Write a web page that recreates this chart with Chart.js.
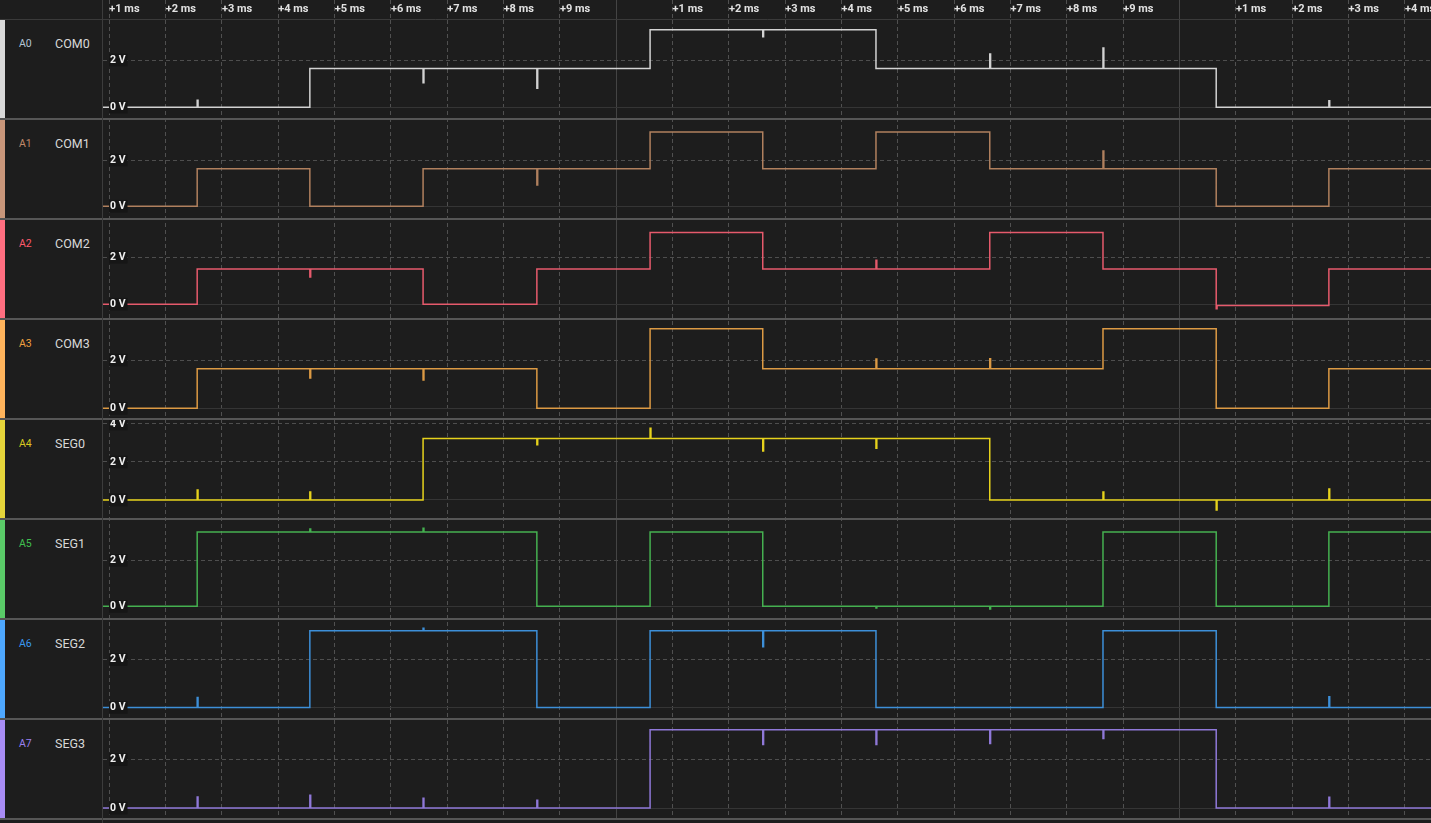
<!DOCTYPE html>
<html>
<head>
<meta charset="utf-8">
<script src="https://cdn.jsdelivr.net/npm/chart.js@4.4.1/dist/chart.umd.min.js"></script>
<style>
html,body{margin:0;padding:0;background:#1d1d1d;overflow:hidden;}
#wrap{position:relative;width:1431px;height:823px;background:#1d1d1d;}
#chart{position:absolute;left:0;top:0;}
#panel{position:absolute;left:0;top:0;width:102px;height:823px;background:#1d1d1d;border-right:1px solid #3c3c3c;font-family:Roboto,"Noto Sans",sans-serif;}
.hdr{position:absolute;left:0;top:0;width:102px;height:19px;border-bottom:1px solid #3a3a3a;}
.row{position:absolute;left:0;width:102px;height:98px;border-bottom:2px solid #565656;}
.bar{position:absolute;left:0;top:0;width:5px;height:98px;}
.id{position:absolute;left:19px;top:18px;font-size:10.5px;line-height:12px;}
.nm{position:absolute;left:55px;top:17px;font-size:12.5px;line-height:14px;color:#d8d8d8;}
</style>
</head>
<body>
<div id="wrap">
<canvas id="chart" width="1431" height="823"></canvas>
<div id="panel"><div class="hdr"></div></div>
</div>
<script>
// ---- channel identity ----
const channelIds   = ['A0','A1','A2','A3','A4','A5','A6','A7'];
const channelNames = ['COM0','COM1','COM2','COM3','SEG0','SEG1','SEG2','SEG3'];

// ---- time axis (ms) ----
const viewStart = 0.888;
const viewEnd   = 24.463;
const xTickValues = [1,2,3,4,5,6,7,8,9,10,11,12,13,14,15,16,17,18,19,20,21,22,23,24];
const xTickLabels = ['+1 ms','+2 ms','+3 ms','+4 ms','+5 ms','+6 ms','+7 ms','+8 ms','+9 ms','',
                     '+1 ms','+2 ms','+3 ms','+4 ms','+5 ms','+6 ms','+7 ms','+8 ms','+9 ms','',
                     '+1 ms','+2 ms','+3 ms','+4 ms'];

// segment boundaries (ms) where the LCD drive levels change
const edgeTimes = [2.56, 4.56, 6.57, 8.59, 10.60, 12.60, 14.61, 16.63, 18.64, 20.65, 22.65];

// ---- voltage levels per segment (V), one value per segment (12 segments) ----
const com0Levels = [0, 0, 1.64, 1.64, 1.64, 3.28, 3.28, 1.64, 1.64, 1.64, 0, 0];
const com1Levels = [0, 1.63, 0, 1.63, 1.63, 3.22, 1.63, 3.22, 1.63, 1.63, 0, 1.63];
const com2Levels = [0, 1.50, 1.50, 0, 1.50, 3.06, 1.50, 1.50, 3.06, 1.50, -0.06, 1.50];
const com3Levels = [0, 1.64, 1.64, 1.64, 0, 3.30, 1.64, 1.64, 1.64, 3.30, 0, 1.64];
const seg0Levels = [0, 0, 0, 3.23, 3.23, 3.23, 3.23, 3.23, 0, 0, 0, 0];
const seg1Levels = [0, 3.23, 3.23, 3.23, 0, 3.23, 0, 0, 0, 3.23, 0, 3.23];
const seg2Levels = [0, 0, 3.20, 3.20, 0, 3.20, 3.20, 0, 0, 3.20, 0, 0];
const seg3Levels = [0, 0, 0, 0, 0, 3.24, 3.24, 3.24, 3.24, 3.24, 0, 0];

// ---- short glitches [time ms, peak V] ----
const com0Glitches = [[2.56,0.30],[6.57,1.04],[8.59,0.80],[12.60,2.99],[16.63,2.26],[18.64,2.51],[22.65,0.27]];
const com1Glitches = [[8.59,0.92],[18.64,2.39]];
const com2Glitches = [[4.56,1.16],[14.61,1.87],[20.65,-0.19]];
const com3Glitches = [[4.56,1.26],[6.57,1.17],[14.61,2.04],[16.63,2.05]];
const seg0Glitches = [[2.56,0.53],[4.56,0.42],[8.59,2.91],[10.60,3.77],[12.60,2.58],[14.61,2.72],[18.64,0.42],[20.65,-0.53],[22.65,0.58]];
const seg1Glitches = [[4.56,3.36],[6.57,3.40],[14.61,-0.07],[16.63,-0.12]];
const seg2Glitches = [[2.56,0.42],[6.57,3.30],[12.60,2.53],[22.65,0.45]];
const seg3Glitches = [[2.56,0.46],[4.56,0.53],[6.57,0.41],[8.59,0.32],[12.60,2.63],[14.61,2.63],[16.63,2.67],[18.64,2.87],[22.65,0.45]];

// ---- per-channel vertical axis ranges and ticks (V) ----
const axisMin = [-0.50, -0.55, -0.63, -0.44, -1.00, -0.55, -0.48, -0.45];
const axisMax = [ 3.74,  3.78,  3.63,  3.70,  4.26,  3.80,  3.69,  3.68];
const yTickValues     = [0, 2];
const yTickValuesSeg0 = [0, 2, 4];

// ---- colours ----
const barColors   = ['#d9d9d9','#c8967a','#ff6e80','#ffb45c','#e5d43a','#5acb68','#4ea8ff','#a88cf5'];
const idColors    = ['#b4c4d4','#c08a6a','#ff5a6c','#f0a040','#d8c820','#40c050','#3a98f0','#9a80f0'];
const traceColors = ['#d2d2d2','#b0805e','#e65a6c','#dc9a44','#e6d21c','#45b050','#3d8fd8','#8f78d8'];

const levelsList  = [com0Levels,com1Levels,com2Levels,com3Levels,seg0Levels,seg1Levels,seg2Levels,seg3Levels];
const glitchList  = [com0Glitches,com1Glitches,com2Glitches,com3Glitches,seg0Glitches,seg1Glitches,seg2Glitches,seg3Glitches];
const tickSets    = [yTickValues,yTickValues,yTickValues,yTickValues,yTickValuesSeg0,yTickValues,yTickValues,yTickValues];

// ---- left panel (HTML text) ----
const panel = document.getElementById('panel');
channelNames.forEach((name, i) => {
  const r = document.createElement('div');
  r.className = 'row';
  r.style.top = (20 + 100 * i) + 'px';
  r.innerHTML = '<div class="bar" style="background:' + barColors[i] + '"></div>' +
                '<div class="id" style="color:' + idColors[i] + '">' + channelIds[i] + '</div>' +
                '<div class="nm">' + name + '</div>';
  panel.appendChild(r);
});

// ---- build stepped waveform points ----
function buildPoints(levels, glitches) {
  const starts = [viewStart].concat(edgeTimes);
  const pts = starts.map((t, i) => ({x: t, y: levels[i]}));
  pts.push({x: viewEnd, y: levels[levels.length - 1]});
  const levelAt = t => { let i = 0; while (i < edgeTimes.length && edgeTimes[i] <= t) i++; return levels[i]; };
  const extra = [];
  glitches.forEach(([t, v]) => { extra.push({x: t, y: v}, {x: t + 0.015, y: levelAt(t)}); });
  return pts.concat(extra).sort((a, b) => a.x - b.x);
}

const isMajor = ctx => ctx.tick && Math.round(ctx.tick.value) % 10 === 0;

const scales = {
  x: {
    type: 'linear', position: 'top', min: viewStart, max: viewEnd,
    afterBuildTicks: s => { s.ticks = xTickValues.map(v => ({value: v})); },
    afterFit: s => { s.height = 19; s.paddingLeft = 0; s.paddingRight = 0; },
    ticks: {
      autoSkip: false, maxRotation: 0, minRotation: 0, align: 'start', padding: -16,
      color: '#e2e2e2', font: {family: 'Roboto', size: 11, weight: 'bold'},
      callback: (v, i) => xTickLabels[i]
    },
    grid: {
      color: ctx => isMajor(ctx) ? '#444444' : '#505050',
      tickColor: ctx => isMajor(ctx) ? '#444444' : '#505050',
      lineWidth: 1, drawTicks: true, tickLength: 19,
      tickBorderDash: ctx => isMajor(ctx) ? [] : [4, 3]
    },
    border: { display: true, color: '#3a3a3a', dash: ctx => (ctx.tick && !isMajor(ctx)) ? [4, 3] : [] }
  }
};

// stacked vertical axes are laid out top-down in reverse definition order
for (let i = channelNames.length - 1; i >= 0; i--) {
  scales['y' + i] = {
    type: 'linear', position: 'left', stack: 'channels', stackWeight: 1,
    min: axisMin[i], max: axisMax[i],
    afterFit: s => { s.width = 0; s.paddingTop = 0; s.paddingBottom = 0; },
    afterBuildTicks: s => { s.ticks = tickSets[i].map(v => ({value: v})); },
    ticks: {
      mirror: true, padding: 7, z: 1,
      color: '#f0f0f0', font: {family: 'Roboto', size: 10.5, weight: 'bold'},
      callback: v => v + ' V',
      showLabelBackdrop: true, backdropColor: '#161616',
      backdropPadding: {top: 0, bottom: 0, left: 1, right: 2}
    },
    grid: {
      color: ctx => (ctx.tick && ctx.tick.value === 0) ? '#353535' : '#4e4e4e',
      drawTicks: false, lineWidth: 1
    },
    border: { display: false, dash: ctx => (ctx.tick && ctx.tick.value !== 0) ? [4, 3] : [] }
  };
}

const rowSeparators = {
  id: 'rowSeparators',
  afterDraw(chart) {
    const ctx = chart.ctx, a = chart.chartArea;
    ctx.save();
    ctx.fillStyle = '#565656';
    channelNames.forEach((n, i) => {
      const s = chart.scales['y' + i];
      ctx.fillRect(a.left, Math.round(s.bottom) - 1, a.right - a.left, 2);
    });
    ctx.restore();
  }
};

new Chart(document.getElementById('chart'), {
  type: 'line',
  data: {
    datasets: channelNames.map((n, i) => ({
      label: n,
      data: buildPoints(levelsList[i], glitchList[i]),
      yAxisID: 'y' + i,
      borderColor: traceColors[i],
      borderWidth: 1.5,
      pointRadius: 0,
      stepped: 'before',
      tension: 0,
      fill: false
    }))
  },
  options: {
    responsive: false, animation: false, devicePixelRatio: 1, events: [],
    layout: { padding: {left: 103, top: 0, right: 0, bottom: 4} },
    plugins: { legend: {display: false}, tooltip: {enabled: false} },
    scales: scales
  },
  plugins: [rowSeparators]
});
</script>
</body>
</html>
